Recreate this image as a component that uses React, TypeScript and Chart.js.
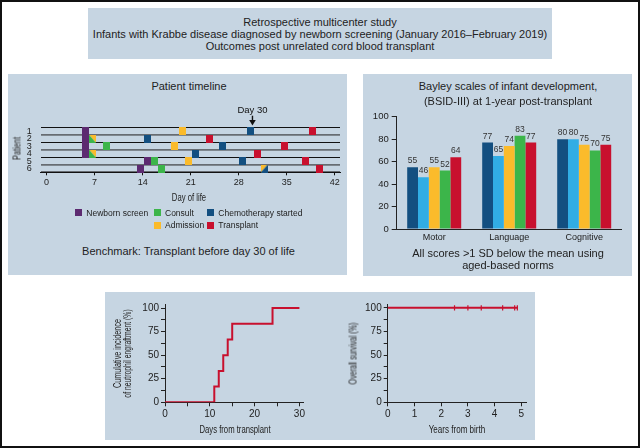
import React, { useEffect, useRef } from "react";
import { Chart, registerables } from "chart.js";

Chart.register(...registerables);

// ---------------- Data ----------------
const PATIENTS = ["1", "2", "3", "4", "5", "6"];
const NEWBORN_SCREEN_DAY = [5.7, 5.7, 5.7, 5.7, 14.7, 13.7];
const CONSULT_DAY = [null, 6.7, 8.8, 6.7, 15.7, 16.7];
const CHEMO_DAY = [29.7, 14.7, 25.7, 21.7, 28.6, 31.7];
const ADMISSION_DAY = [19.8, 6.7, 18.7, 6.7, 20.7, 31.7];
const TRANSPLANT_DAY = [38.7, 23.7, 34.7, 30.7, 37.7, 39.7];
const DAY_TICKS = [0, 7, 14, 21, 28, 35, 42];
const BENCHMARK_DAY = 30;

const BSID_DOMAINS = ["Motor", "Language", "Cognitive"];
const BSID_SERIES_1 = [55, 77, 80];
const BSID_SERIES_2 = [46, 65, 80];
const BSID_SERIES_3 = [55, 74, 75];
const BSID_SERIES_4 = [52, 83, 70];
const BSID_SERIES_5 = [64, 77, 75];

const ENGRAFT_DAYS = [0, 11, 12, 13, 14, 15, 24, 30];
const ENGRAFT_PCT = [0, 16.7, 33.3, 50, 66.7, 83.3, 100, 100];

const SURVIVAL_YEARS = [0, 4.87];
const SURVIVAL_PCT = [100, 100];
const CENSOR_YEARS = [2.5, 3.0, 3.5, 4.3, 4.75, 4.85];
const CENSOR_PCT = [100, 100, 100, 100, 100, 100];

// ---------------- Styles ----------------
const SANS = "'Liberation Sans', Arial, Helvetica, sans-serif";
const PANEL = "#c6d5e2";
const INK = "#222";

const C_PURPLE = "#5c2a70";
const C_GREEN = "#3cb54a";
const C_BLUE = "#134f80";
const C_YELLOW = "#fbbb2b";
const C_RED = "#c8102e";
const C_LIGHTBLUE = "#31ade4";

type Part = "full" | "LL" | "UR" | "UL" | "LR";

function makeMarker(color: string, part: Part): HTMLCanvasElement {
  const w = 7;
  const h = 8;
  const c = document.createElement("canvas");
  c.width = w;
  c.height = h;
  const g = c.getContext("2d")!;
  g.fillStyle = color;
  g.beginPath();
  if (part === "full") {
    g.rect(0, 0, w, h);
  } else if (part === "LL") {
    g.moveTo(0, 0);
    g.lineTo(0, h);
    g.lineTo(w, h);
  } else if (part === "UR") {
    g.moveTo(0, 0);
    g.lineTo(w, 0);
    g.lineTo(w, h);
  } else if (part === "UL") {
    g.moveTo(0, 0);
    g.lineTo(w, 0);
    g.lineTo(0, h);
  } else {
    g.moveTo(w, 0);
    g.lineTo(w, h);
    g.lineTo(0, h);
  }
  g.closePath();
  g.fill();
  return c;
}

function eventDataset(
  label: string,
  days: (number | null)[],
  color: string,
  partFor: (i: number) => Part
) {
  const pts: { x: number; y: string }[] = [];
  const styles: HTMLCanvasElement[] = [];
  days.forEach((d, i) => {
    if (d == null) return;
    pts.push({ x: d, y: PATIENTS[i] });
    styles.push(makeMarker(color, partFor(i)));
  });
  return {
    label,
    data: pts,
    pointStyle: styles,
    pointRadius: 4,
    backgroundColor: color,
    borderColor: color,
  };
}

const day30Plugin = {
  id: "day30",
  afterDraw(chart: any) {
    const { ctx, chartArea } = chart;
    const px = chart.scales.x.getPixelForValue(BENCHMARK_DAY);
    const t = chartArea.top;
    ctx.save();
    ctx.fillStyle = "#111";
    ctx.font = `9.5px ${SANS}`;
    ctx.textAlign = "center";
    ctx.textBaseline = "middle";
    ctx.fillText(`Day ${BENCHMARK_DAY}`, px, t - 17);
    ctx.fillRect(px - 0.7, t - 12, 1.4, 5);
    ctx.beginPath();
    ctx.moveTo(px - 3.3, t - 7.6);
    ctx.lineTo(px + 3.3, t - 7.6);
    ctx.lineTo(px, t - 2.2);
    ctx.closePath();
    ctx.fill();
    ctx.restore();
  },
};

const barValuePlugin = {
  id: "barValues",
  afterDatasetsDraw(chart: any) {
    const { ctx } = chart;
    ctx.save();
    ctx.font = `8.5px ${SANS}`;
    ctx.fillStyle = "#333";
    ctx.textAlign = "center";
    ctx.textBaseline = "bottom";
    chart.data.datasets.forEach((ds: any, di: number) => {
      const meta = chart.getDatasetMeta(di);
      meta.data.forEach((bar: any, i: number) => {
        ctx.fillText(String(ds.data[i]), bar.x, bar.y - 2);
      });
    });
    ctx.restore();
  },
};

function Label(props: {
  cx: number;
  cy: number;
  size?: number;
  lh?: number;
  children: React.ReactNode;
}) {
  const size = props.size ?? 11;
  const lh = props.lh ?? 13;
  return (
    <div
      style={{
        position: "absolute",
        left: props.cx - 250,
        width: 500,
        top: props.cy - lh / 2,
        lineHeight: `${lh}px`,
        fontSize: size,
        textAlign: "center",
        whiteSpace: "nowrap",
        color: INK,
      }}
    >
      {props.children}
    </div>
  );
}

// condensed axis title (scaled horizontally along the text direction)
function AxisTitle(props: {
  cx: number;
  cy: number;
  text: string;
  vertical?: boolean;
  size?: number;
  sx?: number;
}) {
  const size = props.size ?? 11.5;
  const sx = props.sx ?? 0.67;
  const lh = 13;
  return (
    <div
      style={{
        position: "absolute",
        left: props.cx - 150,
        width: 300,
        top: props.cy - lh / 2,
        lineHeight: `${lh}px`,
        fontSize: size,
        textAlign: "center",
        whiteSpace: "nowrap",
        color: INK,
        transform: `${props.vertical ? "rotate(-90deg) " : ""}scaleX(${sx})`,
      }}
    >
      {props.text}
    </div>
  );
}

function LegendItem(props: { x: number; cy: number; color: string; text: string }) {
  return (
    <>
      <div
        style={{
          position: "absolute",
          left: props.x,
          top: props.cy - 3.5,
          width: 7,
          height: 7,
          background: props.color,
        }}
      />
      <div
        style={{
          position: "absolute",
          left: props.x + 11,
          top: props.cy - 6,
          lineHeight: "12px",
          fontSize: 8.5,
          whiteSpace: "nowrap",
          color: INK,
        }}
      >
        {props.text}
      </div>
    </>
  );
}

export default function App() {
  const tlRef = useRef<HTMLCanvasElement>(null);
  const bsRef = useRef<HTMLCanvasElement>(null);
  const enRef = useRef<HTMLCanvasElement>(null);
  const osRef = useRef<HTMLCanvasElement>(null);

  useEffect(() => {
    Chart.defaults.font.family = SANS;
    Chart.defaults.color = INK;

    const timeline = new Chart(tlRef.current!, {
      type: "scatter",
      data: {
        datasets: [
          eventDataset("Newborn screen", NEWBORN_SCREEN_DAY, C_PURPLE, () => "full"),
          eventDataset("Consult", CONSULT_DAY, C_GREEN, (i) =>
            CONSULT_DAY[i] === ADMISSION_DAY[i] ? "LL" : "full"
          ),
          eventDataset("Chemotherapy started", CHEMO_DAY, C_BLUE, (i) =>
            CHEMO_DAY[i] === ADMISSION_DAY[i] ? "LR" : "full"
          ),
          eventDataset("Admission", ADMISSION_DAY, C_YELLOW, (i) =>
            ADMISSION_DAY[i] === CONSULT_DAY[i]
              ? "UR"
              : ADMISSION_DAY[i] === CHEMO_DAY[i]
              ? "UL"
              : "full"
          ),
          eventDataset("Transplant", TRANSPLANT_DAY, C_RED, () => "full"),
        ] as any,
      },
      options: {
        animation: false,
        responsive: false,
        devicePixelRatio: 1,
        events: [],
        layout: { padding: { top: 24.7, right: 7, left: 0, bottom: 0 } },
        plugins: { legend: { display: false }, tooltip: { enabled: false } },
        scales: {
          x: {
            type: "linear",
            min: -0.85,
            max: 42.75,
            afterBuildTicks: (s: any) => {
              s.ticks = DAY_TICKS.map((v) => ({ value: v }));
            },
            ticks: { font: { size: 9 }, color: INK, padding: 2, maxRotation: 0, autoSkip: false },
            grid: { drawOnChartArea: false, tickLength: 3, color: "#111" },
            border: { color: "#111", width: 1 },
            afterFit: (s: any) => {
              s.height = 32.7;
            },
          },
          y: {
            type: "category",
            labels: PATIENTS,
            offset: true,
            grid: {
              offset: true,
              drawTicks: false,
              color: (c: any) => (c.index % 2 === 0 ? "#111" : "#676c72"),
              lineWidth: (c: any) => (c.index % 2 === 0 ? 1 : 1.8),
            },
            border: { display: false },
            ticks: { font: { size: 9 }, color: INK, padding: 9, autoSkip: false },
            afterFit: (s: any) => {
              s.width = 32.7;
            },
          },
        } as any,
      },
      plugins: [day30Plugin],
    });

    const bsid = new Chart(bsRef.current!, {
      type: "bar",
      data: {
        labels: BSID_DOMAINS,
        datasets: [
          { label: "Infant 1", data: BSID_SERIES_1, backgroundColor: C_BLUE },
          { label: "Infant 2", data: BSID_SERIES_2, backgroundColor: C_LIGHTBLUE },
          { label: "Infant 3", data: BSID_SERIES_3, backgroundColor: C_YELLOW },
          { label: "Infant 4", data: BSID_SERIES_4, backgroundColor: C_GREEN },
          { label: "Infant 5", data: BSID_SERIES_5, backgroundColor: C_RED },
        ],
      },
      options: {
        animation: false,
        responsive: false,
        devicePixelRatio: 1,
        events: [],
        layout: { padding: { top: 8.7, right: 10.3, left: 0, bottom: 0 } },
        datasets: { bar: { barPercentage: 1, categoryPercentage: 0.72 } },
        plugins: { legend: { display: false }, tooltip: { enabled: false } },
        scales: {
          x: {
            grid: { display: false, drawTicks: false, tickLength: 0 },
            border: { color: INK, width: 1 },
            ticks: { font: { size: 9 }, color: INK, padding: 3 },
            afterFit: (s: any) => {
              s.height = 19;
            },
          },
          y: {
            min: 0,
            max: 100,
            ticks: { stepSize: 10, font: { size: 9.5 }, color: INK, padding: 3 },
            grid: { drawOnChartArea: false, tickLength: 5, color: INK },
            border: { color: INK, width: 1 },
            afterFit: (s: any) => {
              s.width = 34.7;
            },
          },
        } as any,
      },
      plugins: [barValuePlugin],
    });

    const engraft = new Chart(enRef.current!, {
      type: "scatter",
      data: {
        datasets: [
          {
            label: "Neutrophil engraftment",
            data: ENGRAFT_DAYS.map((d, i) => ({ x: d, y: ENGRAFT_PCT[i] })),
            showLine: true,
            stepped: "before",
            borderColor: C_RED,
            borderWidth: 2,
            pointRadius: 0,
          } as any,
        ],
      },
      options: {
        animation: false,
        responsive: false,
        devicePixelRatio: 1,
        events: [],
        layout: { padding: { top: 12.3, right: 17, left: 0, bottom: 0 } },
        plugins: { legend: { display: false }, tooltip: { enabled: false } },
        scales: {
          x: {
            type: "linear",
            min: 0,
            max: 30.8,
            ticks: {
              stepSize: 5,
              includeBounds: false,
              font: { size: 10 },
              color: INK,
              padding: 2,
              maxRotation: 0,
              autoSkip: false,
              callback: (v: any) => (v % 10 === 0 ? String(v) : ""),
            },
            grid: { drawOnChartArea: false, tickLength: 4, color: INK },
            border: { color: INK, width: 1 },
            afterFit: (s: any) => {
              s.height = 37.7;
            },
          },
          y: {
            type: "linear",
            min: 0,
            max: 104,
            ticks: {
              stepSize: 12.5,
              includeBounds: false,
              font: { size: 10 },
              color: INK,
              padding: 2,
              autoSkip: false,
              callback: (v: any) => (v % 25 === 0 ? String(v) : ""),
            },
            grid: { drawOnChartArea: false, tickLength: 4, color: INK },
            border: { color: INK, width: 1 },
            afterFit: (s: any) => {
              s.width = 60;
            },
          },
        } as any,
      },
    });

    const survival = new Chart(osRef.current!, {
      type: "scatter",
      data: {
        datasets: [
          {
            label: "Overall survival",
            data: SURVIVAL_YEARS.map((d, i) => ({ x: d, y: SURVIVAL_PCT[i] })),
            showLine: true,
            borderColor: C_RED,
            borderWidth: 2,
            pointRadius: 0,
          } as any,
          {
            label: "Censored",
            data: CENSOR_YEARS.map((d, i) => ({ x: d, y: CENSOR_PCT[i] })),
            pointStyle: "line",
            rotation: 90,
            pointRadius: 2.6,
            borderWidth: 1.2,
            borderColor: C_RED,
            backgroundColor: C_RED,
          } as any,
        ],
      },
      options: {
        animation: false,
        responsive: false,
        devicePixelRatio: 1,
        events: [],
        layout: { padding: { top: 12, right: 8.3, left: 0, bottom: 0 } },
        plugins: { legend: { display: false }, tooltip: { enabled: false } },
        scales: {
          x: {
            type: "linear",
            min: 0,
            max: 5.2,
            ticks: {
              stepSize: 1,
              includeBounds: false,
              font: { size: 10 },
              color: INK,
              padding: 2,
              maxRotation: 0,
            },
            grid: { drawOnChartArea: false, tickLength: 4, color: INK },
            border: { color: INK, width: 1 },
            afterFit: (s: any) => {
              s.height = 37.7;
            },
          },
          y: {
            type: "linear",
            min: 0,
            max: 104,
            ticks: {
              stepSize: 12.5,
              includeBounds: false,
              font: { size: 10 },
              color: INK,
              padding: 2,
              autoSkip: false,
              callback: (v: any) => (v % 25 === 0 ? String(v) : ""),
            },
            grid: { drawOnChartArea: false, tickLength: 4, color: INK },
            border: { color: INK, width: 1 },
            afterFit: (s: any) => {
              s.width = 67.7;
            },
          },
        } as any,
      },
    });

    return () => {
      timeline.destroy();
      bsid.destroy();
      engraft.destroy();
      survival.destroy();
    };
  }, []);

  const canvasStyle = (l: number, t: number): React.CSSProperties => ({
    position: "absolute",
    left: l,
    top: t,
    display: "block",
  });

  return (
    <div
      style={{
        position: "absolute",
        left: 0,
        top: 0,
        width: 640,
        height: 448,
        background: "#fff",
        fontFamily: SANS,
        color: INK,
        overflow: "hidden",
      }}
    >
      {/* header box */}
      <div style={{ position: "absolute", left: 88, top: 8, width: 464, height: 51, background: PANEL }} />
      <Label cx={320} cy={21.7} lh={12}>Retrospective multicenter study</Label>
      <Label cx={320} cy={33.7} lh={12}>
        Infants with Krabbe disease diagnosed by newborn screening (January 2016–February 2019)
      </Label>
      <Label cx={320} cy={45.7} lh={12}>Outcomes post unrelated cord blood transplant</Label>

      {/* left panel */}
      <div style={{ position: "absolute", left: 8, top: 74, width: 339, height: 201, background: PANEL }} />
      <Label cx={189} cy={86.7}>Patient timeline</Label>
      <canvas ref={tlRef} width={339} height={102} style={canvasStyle(8, 103)} />
      <AxisTitle cx={16.7} cy={148} text="Patient" vertical sx={0.64} />
      <AxisTitle cx={189.3} cy={197.7} text="Day of life" />
      <LegendItem x={75.3} cy={212.7} color={C_PURPLE} text="Newborn screen" />
      <LegendItem x={154} cy={212.7} color={C_GREEN} text="Consult" />
      <LegendItem x={207.3} cy={212.7} color={C_BLUE} text="Chemotherapy started" />
      <LegendItem x={154} cy={225} color={C_YELLOW} text="Admission" />
      <LegendItem x={207.3} cy={225} color={C_RED} text="Transplant" />
      <Label cx={188.5} cy={251.7}>Benchmark: Transplant before day 30 of life</Label>

      {/* right panel */}
      <div style={{ position: "absolute", left: 363, top: 74, width: 269, height: 202, background: PANEL }} />
      <Label cx={508} cy={86} lh={14}>Bayley scales of infant development,</Label>
      <Label cx={508} cy={100.7} lh={14}>(BSID-III) at 1-year post-transplant</Label>
      <canvas ref={bsRef} width={270} height={140} style={canvasStyle(362, 108)} />
      <Label cx={508} cy={252.7} lh={12}>All scores &gt;1 SD below the mean using</Label>
      <Label cx={508} cy={265} lh={12}>aged-based norms</Label>

      {/* bottom panel */}
      <div style={{ position: "absolute", left: 105, top: 292, width: 430, height: 148, background: PANEL }} />
      <canvas ref={enRef} width={215} height={148} style={canvasStyle(105, 292)} />
      <canvas ref={osRef} width={215} height={148} style={canvasStyle(320, 292)} />
      <AxisTitle cx={117.3} cy={353.3} text="Cumulative incidence" vertical size={11} sx={0.66} />
      <AxisTitle cx={126.7} cy={353.3} text="of neutrophil engraftment (%)" vertical size={11} sx={0.62} />
      <AxisTitle cx={235} cy={429} text="Days from transplant" />
      <AxisTitle cx={353.3} cy={353.3} text="Overall survival (%)" vertical sx={0.62} />
      <AxisTitle cx={456.7} cy={429} text="Years from birth" sx={0.7} />

      {/* outer frame */}
      <div
        style={{
          position: "absolute",
          left: 0,
          top: 0,
          width: 640,
          height: 448,
          boxSizing: "border-box",
          border: "2px solid #111",
          pointerEvents: "none",
        }}
      />
    </div>
  );
}
